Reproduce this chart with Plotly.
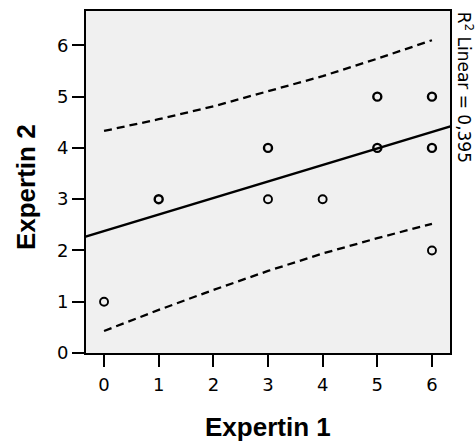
import plotly.graph_objects as go

# Data
expertin1 = [0, 1, 3, 3, 4, 5, 5, 6, 6, 6]
expertin2 = [1, 3, 4, 3, 3, 5, 4, 5, 4, 2]
overlap = [1, 2, 2, 1, 1, 2, 2, 2, 2, 1]  # apparent overlapping cases (bolder circles)

fit_x = [-0.34, 6.34]
fit_y = [2.27, 4.42]

band_x = [0, 1, 2, 3, 4, 5, 6]
band_upper = [4.33, 4.56, 4.81, 5.10, 5.40, 5.74, 6.10]
band_lower = [0.43, 0.84, 1.23, 1.60, 1.94, 2.24, 2.52]

x_ticks = [0, 1, 2, 3, 4, 5, 6]
y_ticks = [0, 1, 2, 3, 4, 5, 6]
r2_label = "R<sup>2</sup> Linear = 0,395"

FONT = "Liberation Sans, Arial, Helvetica, sans-serif"
TICKFONT = "DejaVu Sans, Liberation Sans, sans-serif"

fig = go.Figure()
fig.add_trace(go.Scatter(x=band_x, y=band_upper, mode="lines",
                         line=dict(color="black", width=2.3, dash="8px,5px"),
                         hoverinfo="skip", showlegend=False))
fig.add_trace(go.Scatter(x=band_x, y=band_lower, mode="lines",
                         line=dict(color="black", width=2.3, dash="8px,5px"),
                         hoverinfo="skip", showlegend=False))
fig.add_trace(go.Scatter(x=fit_x, y=fit_y, mode="lines",
                         line=dict(color="black", width=2.3),
                         hoverinfo="skip", showlegend=False))
fig.add_trace(go.Scatter(x=expertin1, y=expertin2, mode="markers",
                         marker=dict(symbol="circle-open", size=8, color="black",
                                     line=dict(color="black",
                                               width=[2.4 if c > 1 else 1.9 for c in overlap])),
                         showlegend=False))

axis_common = dict(showgrid=False, zeroline=False, showline=True, linecolor="black",
                   linewidth=2, mirror=True, ticks="outside", ticklen=12, tickwidth=2,
                   tickcolor="black", tickfont=dict(family=TICKFONT, size=18, color="black"))

fig.update_xaxes(range=[-0.33, 6.33], tickvals=x_ticks, ticklabelstandoff=2, **axis_common)
fig.update_yaxes(range=[0, 6.67], tickvals=y_ticks, ticklabelstandoff=0, **axis_common)

fig.add_annotation(text="<b>Expertin 1</b>", xref="paper", yref="paper",
                   x=0.5, y=-0.215, xanchor="center", yanchor="middle", showarrow=False,
                   font=dict(family=FONT, size=26, color="black"))
fig.add_annotation(text="<b>Expertin 2</b>", xref="paper", yref="paper",
                   x=-0.165, y=0.485, xanchor="center", yanchor="middle", showarrow=False,
                   textangle=-90, font=dict(family=FONT, size=26, color="black"))
fig.add_annotation(text=r2_label, xref="paper", yref="paper",
                   x=1.005, y=1.003, xanchor="left", yanchor="top", showarrow=False,
                   textangle=90, font=dict(family=TICKFONT, size=17, color="black"))

fig.update_layout(width=475, height=441, margin=dict(l=86, r=25, t=9, b=88),
                  plot_bgcolor="#f0f0f0", paper_bgcolor="white",
                  font=dict(family=FONT, color="black"))

fig.write_html("out.html", config={"displayModeBar": False})

with open("out.html", "r", encoding="utf-8") as f:
    html = f.read()
html = html.replace("<head>", "<head><style>html,body{margin:0;padding:0;overflow:hidden;}</style>", 1)
with open("out.html", "w", encoding="utf-8") as f:
    f.write(html)
